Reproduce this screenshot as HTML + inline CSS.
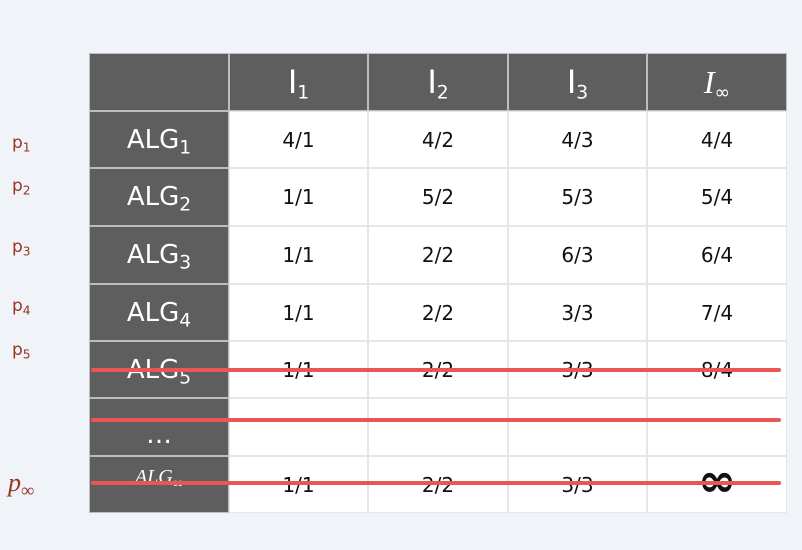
<!DOCTYPE html>
<html><head><meta charset="utf-8"><style>
body{margin:0;width:802px;height:550px;background:#f0f4f8;position:relative;overflow:hidden;font-family:"DejaVu Sans","Liberation Sans",sans-serif}
.c{position:absolute;box-sizing:border-box;display:flex;align-items:center;justify-content:center}
.c>span{display:inline-block;white-space:nowrap}
.d{background:#5e5e5e;color:#fff;border:1px solid #bdbdbd}
.w{background:#fff;color:#111;border:1px solid #e4e6e8;font-size:20px}
.p{position:absolute;color:#9a3324;font-size:17px}
.r{position:absolute;height:4px;background:#ea5656;border-radius:2px;left:91px;width:690px}
sub{font-size:0.72em;vertical-align:-0.3em;line-height:0}
.hi{font-family:"Liberation Sans",sans-serif;font-size:34px;font-weight:normal}
</style></head><body>
<div id="t"></div>
<div class="p" style="left:12px;top:133px">p<sub>1</sub></div>
<div class="p" style="left:12px;top:176px">p<sub>2</sub></div>
<div class="p" style="left:12px;top:237px">p<sub>3</sub></div>
<div class="p" style="left:12px;top:296px">p<sub>4</sub></div>
<div class="p" style="left:12px;top:340px">p<sub>5</sub></div>
<div class="p" style="left:8px;top:468px;font-family:'Liberation Serif',serif;font-style:italic;font-size:26px">p<sub style="font-style:normal">∞</sub></div>
<div class="r" style="top:368px"></div>
<div class="r" style="top:418px"></div>
<div class="r" style="top:481px"></div>
<script>
const colsX=[89,229,368,508,647,787];
const rowsY=[53,111,168,226,284,341,398,456,513];
const headers=['','<span class="hi">I</span><sub>1</sub>','<span class="hi">I</span><sub>2</sub>','<span class="hi">I</span><sub>3</sub>','<i style="font-family:Liberation Serif,serif;font-size:32px">I</i><sub>∞</sub>'];
const rowLabels=['ALG<sub>1</sub>','ALG<sub>2</sub>','ALG<sub>3</sub>','ALG<sub>4</sub>','ALG<sub>5</sub>','<span style="position:relative;top:8px">…</span>','<i style="font-family:Liberation Serif,serif;font-size:20px;position:relative;top:-10px">ALG<sub>∞</sub></i>'];
const values=[['4/1','4/2','4/3','4/4'],['1/1','5/2','5/3','5/4'],['1/1','2/2','6/3','6/4'],['1/1','2/2','3/3','7/4'],['1/1','2/2','3/3','8/4'],['','','',''],['1/1','2/2','3/3','<span style="font-size:46px;font-weight:bold;line-height:0;position:relative;top:4px">∞</span>']];
const t=document.getElementById('t');
function cell(cls,x0,x1,y0,y1,html,fs){const e=document.createElement('div');e.className='c '+cls;e.style.left=x0+'px';e.style.top=y0+'px';e.style.width=(x1-x0)+'px';e.style.height=(y1-y0)+'px';if(fs)e.style.fontSize=fs+'px';e.innerHTML='<span>'+html+'</span>';t.appendChild(e);return e;}
for(let j=0;j<5;j++){const e=cell('d',colsX[j],colsX[j+1],rowsY[0],rowsY[1],headers[j],26);

}
for(let i=0;i<rowLabels.length;i++){const e=cell('d',colsX[0],colsX[1],rowsY[i+1],rowsY[i+2],rowLabels[i],26);


for(let j=0;j<4;j++){const v=cell('w',colsX[j+1],colsX[j+2],rowsY[i+1],rowsY[i+2],values[i][j]);

}}
</script>
</body></html>
